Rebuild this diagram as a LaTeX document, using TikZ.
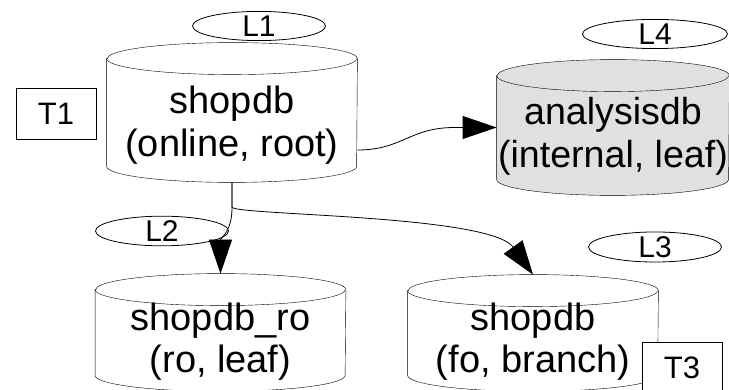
\documentclass[tikz,border=0pt]{standalone}
\usepackage{fontspec}
\setmainfont{Liberation Sans}
\usepackage{xcolor}
\usetikzlibrary{shapes.geometric, arrows.meta, backgrounds}
\definecolor{leafgray}{RGB}{224,224,224}

% cylinder behind a db node: node, fill, half width
\newcommand{\dbcylinder}[3]{%
  \begin{scope}[on background layer]
  \draw [fill=#2] ([yshift=-16pt]#1.north west) -- ([yshift=16pt]#1.south west)
    arc [start angle=180, end angle=360, x radius=#3, y radius=16pt]
    -- ([yshift=-16pt]#1.north east)
    arc [start angle=0, end angle=180, x radius=#3, y radius=16pt] -- cycle;
  \draw ([yshift=-16pt]#1.north west) arc [start angle=180, end angle=360, x radius=#3, y radius=16pt];
  \end{scope}}
\newcommand{\dbtext}[2]{\begin{tabular}[b]{@{}c@{}}#1\\#2\end{tabular}}

\begin{document}
\begin{tikzpicture}[x=1pt, y=-1pt, line width=0.8pt]
\tikzstyle{db} = [rectangle, minimum width=250pt, inner sep=0pt, font=\fontsize{38}{43}\selectfont]
\tikzstyle{lbl} = [ellipse, minimum width=133pt, minimum height=27pt, inner sep=0pt, draw=black, fill=white, font=\fontsize{30}{30}\selectfont]
\tikzstyle{tag} = [rectangle, minimum width=80pt, minimum height=51pt, inner sep=0pt, draw=black, fill=white, font=\fontsize{31}{31}\selectfont]
\tikzstyle{arrow} = [-{Triangle[length=34pt, width=23pt]}]

\useasboundingbox (0,0) rectangle (729,390);

\node (shopdb) [db, minimum height=139pt, text height=114pt, text depth=25pt] at (232,112.5) {\dbtext{shopdb}{(online, root)}};
\node (analysisdb) [db, minimum width=232pt, minimum height=135pt, text height=108pt, text depth=27pt, font=\fontsize{37.6}{43}\selectfont] at (613,127.5) {\dbtext{analysisdb}{(internal, leaf)}};
\node (shopdbRo) [db, minimum height=117pt, text height=99pt, text depth=18pt] at (220.5,332.5) {\dbtext{shopdb\_ro}{(ro, leaf)}};
\node (shopdbFo) [db, minimum height=116pt, text height=98pt, text depth=18pt] at (533,333) {\dbtext{shopdb}{(fo, branch)}};

\dbcylinder{shopdb}{white}{125pt}
\dbcylinder{analysisdb}{leafgray}{116pt}
\dbcylinder{shopdbRo}{white}{125pt}
\dbcylinder{shopdbFo}{white}{125pt}

\node (l1) [lbl] at (259,26) {L1};
\node (l4) [lbl, minimum width=145pt] at (655,34) {L4};
\node (l2) [lbl] at (162,231) {L2};
\node (l3) [lbl] at (655,247) {L3};

\node (t1) [tag] at (56,113.5) {T1};

\draw [arrow] ([yshift=-37.5pt]shopdb.east) .. controls +(45,0) and +(-45,0) .. ([xshift=-42pt]analysisdb.west) -- (analysisdb.west);
\draw [arrow] (shopdb.south) -- ++(0,25) .. controls +(0,25) and +(0,-36) .. (shopdbRo.north);
\draw [arrow] (shopdb.south) -- ++(0,25) .. controls +(8,8) and (490,215) .. (shopdbFo.north);

\node (t3) [tag, minimum height=52pt] at (682,368) {T3};
\end{tikzpicture}
\end{document}
